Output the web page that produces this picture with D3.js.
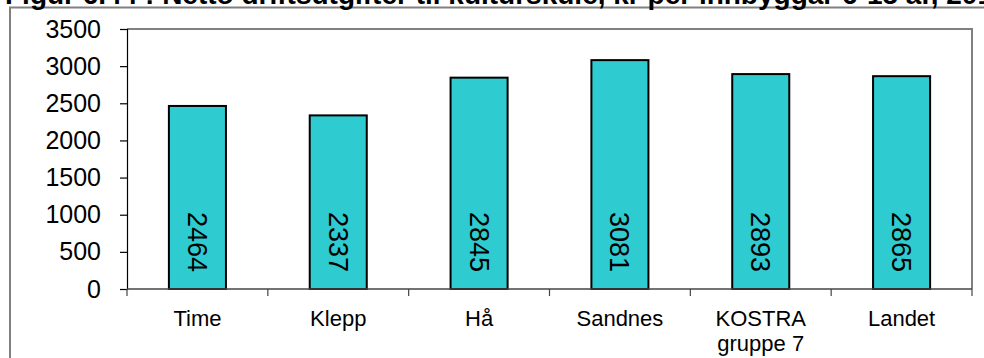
<!DOCTYPE html>
<html>
<head>
<meta charset="utf-8">
<script src="https://cdn.jsdelivr.net/npm/d3@7"></script>
<style>
  html, body { margin: 0; padding: 0; background: #fff; }
  svg { display: block; font-family: "Liberation Sans", Arial, sans-serif; }
</style>
</head>
<body>
<svg id="chart" width="984" height="358"></svg>
<script>
const titleText = "Figur 6.44 : Netto driftsutgifter til kulturskule, kr per innbyggar 6-15 år, 2011";
const categories = ["Time", "Klepp", "Hå", "Sandnes", "KOSTRA gruppe 7", "Landet"];
const categoryLines = [["Time"], ["Klepp"], ["Hå"], ["Sandnes"], ["KOSTRA", "gruppe 7"], ["Landet"]];
const values = [2464, 2337, 2845, 3081, 2893, 2865];
const yTicks = [0, 500, 1000, 1500, 2000, 2500, 3000, 3500];

const svg = d3.select("#chart");
const W = 984, H = 358;
const plot = { left: 127, right: 972, top: 29, bottom: 289 };

// outer frame
svg.append("rect")
  .attr("x", 10).attr("y", 7.5)
  .attr("width", W + 20).attr("height", H + 20)
  .attr("fill", "none").attr("stroke", "#808080").attr("stroke-width", 2);

// title (cut off at top, as in the reference)
svg.append("text")
  .attr("x", 5).attr("y", 4)
  .attr("font-size", 28).attr("font-weight", "bold")
  .attr("fill", "#000")
  .text(titleText);

const x = d3.scaleBand()
  .domain(categories)
  .range([plot.left, plot.right])
  .paddingInner(0.595)
  .paddingOuter(0.2975);

const y = d3.scaleLinear()
  .domain([0, 3500])
  .range([plot.bottom, plot.top]);

// plot area top/right border
svg.append("path")
  .attr("d", `M${plot.left},${plot.top}H${plot.right}V${plot.bottom}`)
  .attr("fill", "none").attr("stroke", "#808080").attr("stroke-width", 2);

// bars
svg.append("g").selectAll("rect")
  .data(values)
  .join("rect")
  .attr("x", (d, i) => x(categories[i]))
  .attr("y", d => y(d))
  .attr("width", x.bandwidth())
  .attr("height", d => y(0) - y(d))
  .attr("fill", "#2ECBD0")
  .attr("stroke", "#000")
  .attr("stroke-width", 2);

// y axis
const yAxis = svg.append("g")
  .attr("transform", `translate(${plot.left},0)`)
  .call(d3.axisLeft(y).tickValues(yTicks).tickSize(7).tickPadding(19).tickFormat(d3.format("d")));
yAxis.select(".domain").attr("stroke", "#000").attr("stroke-width", 1.2);
yAxis.selectAll(".tick line").attr("stroke", "#000").attr("stroke-width", 1.2);
yAxis.selectAll("text")
  .attr("font-size", 25)
  .attr("font-family", "Liberation Sans, Arial, sans-serif")
  .attr("fill", "#000");

// x axis (baseline with ticks at category boundaries)
const step = x.step();
const boundaries = d3.range(categories.length + 1).map(i => plot.left + i * step);
svg.append("line")
  .attr("x1", plot.left).attr("x2", plot.right)
  .attr("y1", plot.bottom).attr("y2", plot.bottom)
  .attr("stroke", "#444").attr("stroke-width", 1.5);
svg.append("g").selectAll("line")
  .data(boundaries)
  .join("line")
  .attr("x1", d => d).attr("x2", d => d)
  .attr("y1", plot.bottom).attr("y2", plot.bottom + 7)
  .attr("stroke", "#444").attr("stroke-width", 1.2);

// x labels
const xl = svg.append("g").selectAll("text")
  .data(categoryLines)
  .join("text")
  .attr("x", (d, i) => x(categories[i]) + x.bandwidth() / 2)
  .attr("y", 326)
  .attr("text-anchor", "middle")
  .attr("font-size", 22)
  .attr("fill", "#000");
xl.selectAll("tspan")
  .data(d => d)
  .join("tspan")
  .attr("x", function () { return d3.select(this.parentNode).attr("x"); })
  .attr("dy", (d, i) => i === 0 ? 0 : 25)
  .text(d => d);

// value labels (rotated)
svg.append("g").selectAll("text")
  .data(values)
  .join("text")
  .attr("transform", (d, i) => {
    const cx = x(categories[i]) + x.bandwidth() / 2;
    return `translate(${cx},${plot.bottom - 17}) rotate(90)`;
  })
  .attr("text-anchor", "end")
  .attr("dy", "0.35em")
  .attr("font-size", 27)
  .attr("fill", "#000")
  .text(d => d);
</script>
</body>
</html>
